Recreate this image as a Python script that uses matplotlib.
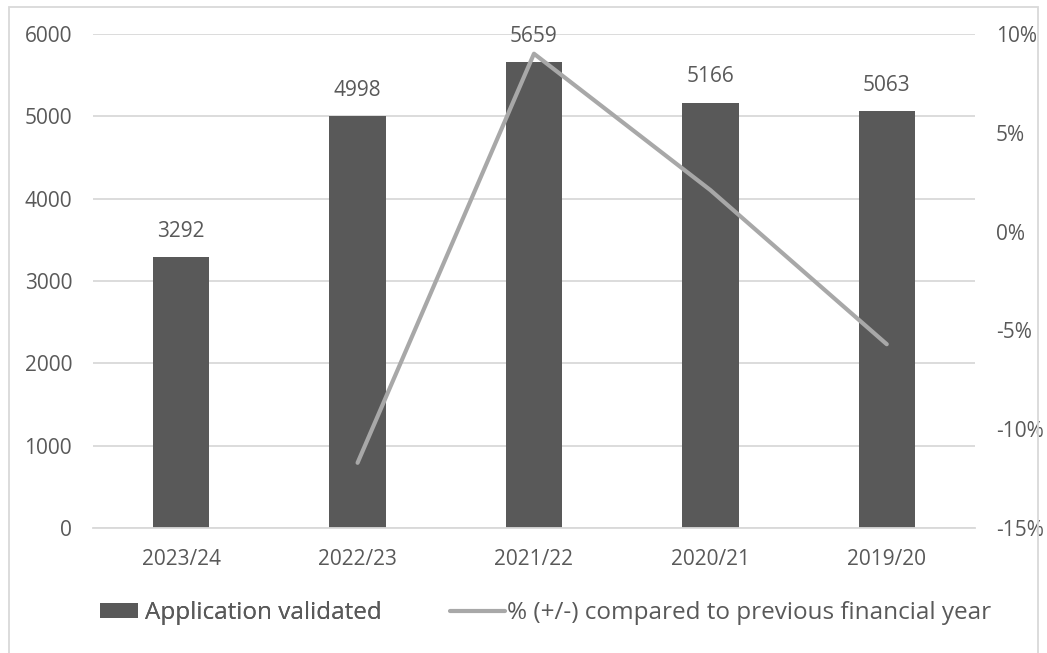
import matplotlib.pyplot as plt
from matplotlib.patches import Rectangle
from matplotlib.ticker import FuncFormatter

years = ['2023/24', '2022/23', '2021/22', '2020/21', '2019/20']
validated = [3292, 4998, 5659, 5166, 5063]
change_years = ['2022/23', '2021/22', '2020/21', '2019/20']
pct_change = [-11.7, 9.0, 2.1, -5.7]

bar_color = '#595959'
line_color = '#A8A8A8'
text_color = '#595959'
grid_color = '#D9D9D9'

plt.rcParams['font.family'] = ['Open Sans', 'DejaVu Sans']

fig = plt.figure(figsize=(10.47, 6.53), dpi=100)
ax = fig.add_axes([0.0888, 0.1914, 0.8424, 0.7566])

x = list(range(len(years)))
bars = ax.bar(x, validated, width=0.32, color=bar_color, zorder=2,
              label='Application validated')
for xi, v in zip(x, validated):
    ax.annotate(str(v), (xi, v), xytext=(0, 11), textcoords='offset points',
                ha='center', va='bottom', fontsize=15, color=text_color)

ax.set_xlim(-0.5, len(years) - 0.5)
ax.set_ylim(0, 6000)
ax.set_yticks(range(0, 6001, 1000))
ax.set_xticks(x)
ax.set_xticklabels(years)
ax.yaxis.grid(True, color=grid_color, linewidth=1.3, zorder=0)
ax.set_axisbelow(True)
for s in ['top', 'right', 'left']:
    ax.spines[s].set_visible(False)
ax.spines['bottom'].set_color(grid_color)
ax.spines['bottom'].set_linewidth(1.3)
ax.tick_params(axis='both', length=0, colors=text_color, labelsize=15)
ax.tick_params(axis='y', pad=15)
ax.tick_params(axis='x', pad=15)

ax2 = ax.twinx()
cx = [years.index(y) for y in change_years]
line, = ax2.plot(cx, pct_change, color=line_color, linewidth=3,
                 solid_capstyle='round', zorder=3,
                 label='% (+/-) compared to previous financial year')
ax2.set_ylim(-15, 10)
ax2.set_yticks(range(-15, 11, 5))
ax2.yaxis.set_major_formatter(FuncFormatter(lambda v, p: f'{int(v)}%'))
for s in ['top', 'right', 'left', 'bottom']:
    ax2.spines[s].set_visible(False)
ax2.tick_params(axis='y', length=0, colors=text_color, labelsize=15, pad=15)

leg1 = fig.legend([bars], [bars.get_label()], loc='center left',
                  bbox_to_anchor=(100 / 1047, 0.061), frameon=False,
                  fontsize=17.5, labelcolor=text_color, borderpad=0,
                  borderaxespad=0, handlelength=1.56, handleheight=0.62,
                  handletextpad=0.3)
fig.add_artist(leg1)
fig.legend([line], [line.get_label()], loc='center left',
           bbox_to_anchor=(450 / 1047, 0.061), frameon=False,
           fontsize=17.5, labelcolor=text_color, borderpad=0,
           borderaxespad=0, handlelength=2.26, handletextpad=0.1)

fig.patches.append(Rectangle((0.009, -0.01), 0.982, 1.0, transform=fig.transFigure,
                             fill=False, edgecolor=grid_color, linewidth=1.3))

fig.savefig('out.png', dpi=100)
